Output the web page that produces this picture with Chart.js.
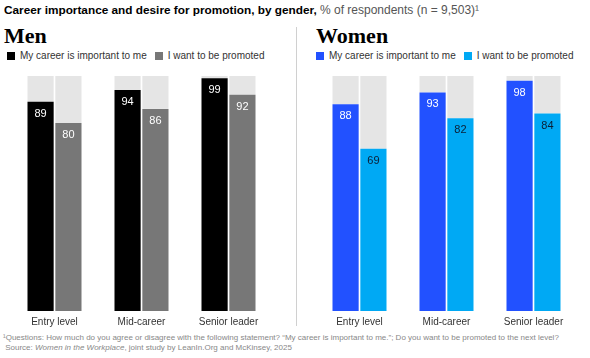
<!DOCTYPE html>
<html>
<head>
<meta charset="utf-8">
<script src="https://cdn.jsdelivr.net/npm/chart.js@4/dist/chart.umd.min.js"></script>
<style>
  body { margin: 0; width: 590px; height: 358px; background: #fff; position: relative; overflow: hidden;
         font-family: "Liberation Sans", Arial, sans-serif; color: #000; }
  .abs { position: absolute; white-space: nowrap; }
  #title { left: 4px; top: 3px; font-size: 11.8px; font-weight: bold; }
  #title span { font-size: 12px; font-weight: normal; color: #555; }
  .panel { font-family: "Liberation Serif", "Times New Roman", serif; font-weight: bold; font-size: 22px; }
  .legend { font-size: 10px; color: #333; display: flex; align-items: center; }
  .legend i { display: inline-block; width: 8px; height: 8px; margin-right: 5px; }
  .legend b { font-weight: normal; margin-right: 8px; }
  #divider { left: 296px; top: 27px; width: 1px; height: 299px; background: #d0d0d0; }
  #note { left: 3px; top: 333px; font-size: 8px; color: #888; line-height: 10px; }
  canvas { position: absolute; }
</style>
</head>
<body>
<div id="title" class="abs">Career importance and desire for promotion, by gender, <span>% of respondents (n = 9,503)¹</span></div>
<div class="abs panel" style="left:4px; top:23px;">Men</div>
<div class="abs panel" style="left:316px; top:23px;">Women</div>
<div class="abs legend" style="left:7px; top:50px;"><i style="background:#000"></i><b>My career is important to me</b><i style="background:#777"></i><b>I want to be promoted</b></div>
<div class="abs legend" style="left:316px; top:50px;"><i style="background:#2251ff"></i><b>My career is important to me</b><i style="background:#00a9f4"></i><b>I want to be promoted</b></div>
<div id="divider" class="abs"></div>
<div id="note" class="abs">¹Questions: How much do you agree or disagree with the following statement? “My career is important to me.”; Do you want to be promoted to the next level?<br>&nbsp;Source: <i>Women in the Workplace</i>, joint study by LeanIn.Org and McKinsey, 2025</div>

<canvas id="menChart" width="261" height="257" style="left:11px; top:76px;"></canvas>
<canvas id="womenChart" width="261" height="257" style="left:316px; top:76px;"></canvas>

<script>
const levels = ['Entry level', 'Mid-career', 'Senior leader'];
const menCareer = [89, 94, 99];
const menPromoted = [80, 86, 92];
const womenCareer = [88, 93, 98];
const womenPromoted = [69, 82, 84];

const restColor = '#e5e5e5';

// writes the value inside each coloured bar, a little below its top
const valueLabels = {
    id: 'valueLabels',
    afterDatasetsDraw(chart) {
        const ctx = chart.ctx;
        ctx.save();
        ctx.font = '11px "Liberation Sans", Arial, sans-serif';
        ctx.textAlign = 'center';
        ctx.textBaseline = 'middle';
        chart.data.datasets.forEach((ds, i) => {
            if (!ds.showValue) return;
            chart.getDatasetMeta(i).data.forEach((bar, j) => {
                ctx.fillStyle = ds.labelColor;
                ctx.fillText(ds.data[j], bar.x, bar.y + 12);
            });
        });
        ctx.restore();
    }
};

function createChart(id, career, promoted, careerColor, promotedColor, promotedLabel) {
    const ctx = document.getElementById(id).getContext('2d');
    return new Chart(ctx, {
        type: 'bar',
        data: {
            labels: levels,
            datasets: [
                { data: career, backgroundColor: careerColor, stack: 'career', showValue: true, labelColor: '#fff' },
                { data: career.map(v => 100 - v), backgroundColor: restColor, stack: 'career' },
                { data: promoted, backgroundColor: promotedColor, stack: 'promoted', showValue: true, labelColor: promotedLabel },
                { data: promoted.map(v => 100 - v), backgroundColor: restColor, stack: 'promoted' }
            ]
        },
        options: {
            responsive: false,
            animation: false,
            layout: { padding: 0 },
            datasets: { bar: { categoryPercentage: 0.64, barPercentage: 0.94 } },
            plugins: { legend: { display: false }, tooltip: { enabled: false } },
            scales: {
                x: {
                    stacked: true,
                    grid: { display: false, drawTicks: false },
                    border: { display: false },
                    ticks: { color: '#333', padding: 5, font: { size: 10, family: '"Liberation Sans", Arial, sans-serif' } }
                },
                y: { stacked: true, display: false, min: 0, max: 100 }
            }
        },
        plugins: [valueLabels]
    });
}

createChart('menChart', menCareer, menPromoted, '#000000', '#777777', '#fff');
createChart('womenChart', womenCareer, womenPromoted, '#2251ff', '#00a9f4', '#0b1f35');
</script>
</body>
</html>
